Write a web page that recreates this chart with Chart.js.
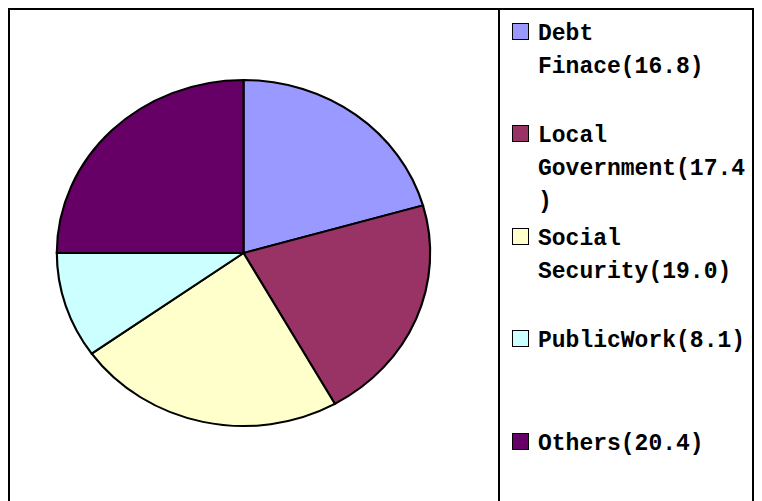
<!DOCTYPE html>
<html>
<head>
<meta charset="utf-8">
<script src="https://cdn.jsdelivr.net/npm/chart.js@4/dist/chart.umd.min.js"></script>
<style>
  html, body { margin: 0; padding: 0; background: #fff; overflow: hidden; }
  body { width: 762px; height: 501px; position: relative; }
  #frame {
    position: absolute; left: 8px; top: 8px;
    width: 742px; height: 520px;
    border: 2px solid #000; box-sizing: content-box;
  }
  #pieWrap { position: absolute; left: 10px; top: 10px; width: 488px; height: 490px; }
  #legend {
    position: absolute; left: 498px; top: 10px; width: 254px; height: 520px;
    border-left: 2px solid #000;
    font-family: "Liberation Mono", "DejaVu Sans Mono", monospace;
    font-weight: bold; font-size: 23px; line-height: 33px; color: #000;
  }
  .item { position: absolute; left: 0; }
  .box {
    position: absolute; left: 12px; width: 15px; height: 15px;
    border: 1px solid #000;
  }
  .txt {
    position: absolute; left: 38px; width: 212px;
    overflow-wrap: anywhere; word-break: normal; white-space: normal;
  }
</style>
</head>
<body>
<div id="frame"></div>
<div id="pieWrap"><canvas id="pie" width="488" height="490"></canvas></div>
<div id="legend"></div>
<script>
// Expenditure categories and their amounts
const categories = ["Debt Finace", "Local Government", "Social Security", "PublicWork", "Others"];
const amounts = [16.8, 17.4, 19.0, 8.1, 20.4];
const sliceColors = ["#9999FF", "#993366", "#FFFFCC", "#CCFFFF", "#660066"];

// Stretch the pie horizontally so it is drawn as a slight ellipse
const xStretch = 1.079;
const ellipsePlugin = {
  id: 'ellipse',
  beforeDatasetsDraw(chart) {
    const arc = chart.getDatasetMeta(0).data[0];
    const ctx = chart.ctx;
    ctx.save();
    ctx.translate(arc.x, arc.y);
    ctx.scale(xStretch, 1);
    ctx.translate(-arc.x, -arc.y);
  },
  afterDatasetsDraw(chart) {
    chart.ctx.restore();
  }
};

const chart = new Chart(document.getElementById('pie'), {
  type: 'pie',
  data: {
    labels: categories.map((c, i) => `${c}(${amounts[i].toFixed(1)})`),
    datasets: [{
      data: amounts,
      backgroundColor: sliceColors,
      borderColor: '#000',
      borderWidth: 2,
      borderJoinStyle: 'miter'
    }]
  },
  options: {
    responsive: false,
    animation: false,
    events: [],
    layout: { padding: { left: 33.5, right: 54.5, top: 69, bottom: 73 } },
    plugins: {
      legend: { display: false },
      tooltip: { enabled: false }
    }
  },
  plugins: [ellipsePlugin]
});

// Legend built from the chart's own legend items
const legendEl = document.getElementById('legend');
const items = Chart.overrides.pie.plugins.legend.labels.generateLabels(chart);
items.forEach((it, i) => {
  const row = document.createElement('div');
  row.className = 'item';
  row.style.top = (7.6 + i * 102.5) + 'px';
  const box = document.createElement('div');
  box.className = 'box';
  box.style.top = '5px';
  box.style.background = it.fillStyle;
  const txt = document.createElement('div');
  txt.className = 'txt';
  txt.style.top = '0px';
  txt.textContent = it.text;
  row.appendChild(box);
  row.appendChild(txt);
  legendEl.appendChild(row);
});
</script>
</body>
</html>
